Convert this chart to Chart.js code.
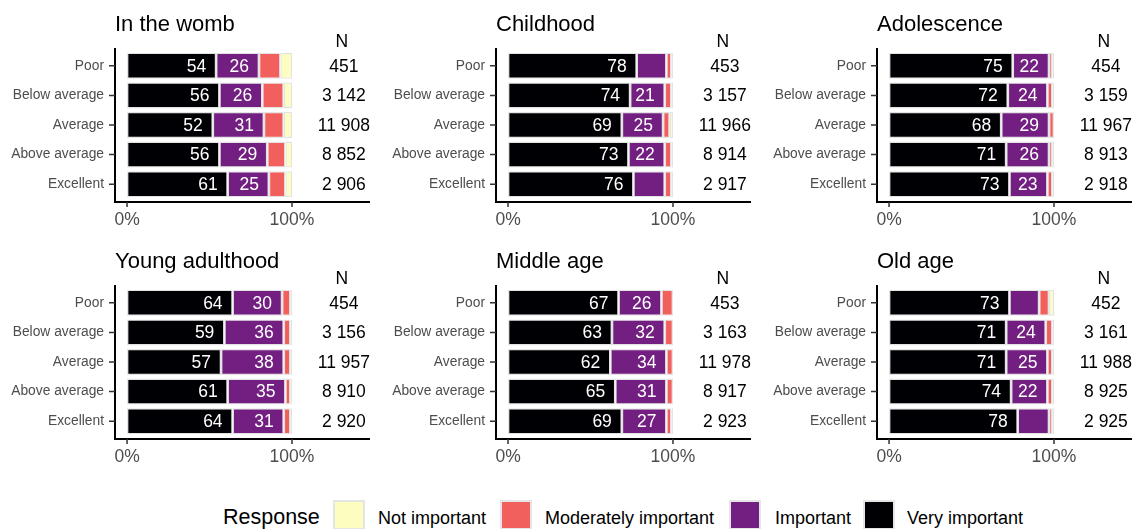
<!DOCTYPE html>
<html>
<head>
<meta charset="utf-8">
<script src="https://cdn.jsdelivr.net/npm/chart.js@4.4.1/dist/chart.umd.min.js"></script>
<style>
  body { margin: 0; background: #fff; width: 1134px; height: 529px; overflow: hidden; position: relative;
         font-family: "Liberation Sans", Arial, sans-serif; }
  canvas { position: absolute; }
  .leg { position: absolute; white-space: nowrap; line-height: 1; }
  .box { position: absolute; width: 32px; height: 30px; box-sizing: border-box; border: 2px solid #e5e5e5; }
</style>
</head>
<body>
<div id="wrap"></div>
<script>
// --- data (percent of respondents) ---
const stages = ['In the womb', 'Childhood', 'Adolescence', 'Young adulthood', 'Middle age', 'Old age'];
const ratings = ['Poor', 'Below average', 'Average', 'Above average', 'Excellent'];
const responses = ['Very important', 'Important', 'Moderately important', 'Not important'];
const legendOrder = ['Not important', 'Moderately important', 'Important', 'Very important'];

const veryImportant = [
  [54, 56, 52, 56, 61], [78, 74, 69, 73, 76], [75, 72, 68, 71, 73],
  [64, 59, 57, 61, 64], [67, 63, 62, 65, 69], [73, 71, 71, 74, 78]
];
const important = [
  [26, 26, 31, 29, 25], [18, 21, 25, 22, 19], [22, 24, 29, 26, 23],
  [30, 36, 38, 35, 31], [26, 32, 34, 31, 27], [18, 24, 25, 22, 19]
];
const moderatelyImportant = [
  [13, 13, 12, 11, 10], [3, 4, 4, 4, 4], [2, 3, 3, 2, 3],
  [5, 4, 4, 3, 4], [7, 5, 4, 4, 3], [6, 4, 3, 3, 2]
];
const notImportant = [
  [7, 5, 5, 4, 4], [1, 1, 2, 1, 1], [1, 1, 0, 1, 1],
  [1, 1, 1, 1, 1], [0, 0, 0, 0, 1], [3, 1, 1, 1, 1]
];
const nCounts = [
  [451, 3142, 11908, 8852, 2906], [453, 3157, 11966, 8914, 2917], [454, 3159, 11967, 8913, 2918],
  [454, 3156, 11957, 8910, 2920], [453, 3163, 11978, 8917, 2923], [452, 3161, 11988, 8925, 2925]
];
const xTicks = [0, 100];

const colours = {
  'Very important': '#000004',
  'Important': '#721f81',
  'Moderately important': '#f1605d',
  'Not important': '#fcfdbf'
};

const FONT = '"Liberation Sans", Arial, sans-serif';
Chart.defaults.font.family = FONT;

const fmtN = n => String(n).replace(/\B(?=(\d{3})+(?!\d))/g, ' ');

// panel title, in-bar percentages, N column and ggplot-like axis lines
const panelText = {
  id: 'panelText',
  afterDatasetsDraw(chart, args, opts) {
    const ctx = chart.ctx;
    const p = opts.panel;
    const xs = chart.scales.x, ys = chart.scales.y;
    const area = chart.chartArea;
    ctx.save();

    // axis lines extend a little past the bars (discrete expansion)
    const axLeft = area.left, axBottom = area.bottom + 3, axTop = area.top - 3;
    ctx.strokeStyle = '#000000';
    ctx.lineWidth = 2;
    ctx.beginPath();
    ctx.moveTo(axLeft, axTop);
    ctx.lineTo(axLeft, axBottom + 1);
    ctx.moveTo(axLeft - 1, axBottom);
    ctx.lineTo(area.right, axBottom);
    ctx.stroke();
    ctx.strokeStyle = '#333333';
    ctx.lineWidth = 1.5;
    ctx.beginPath();
    xTicks.forEach(v => {
      const x = xs.getPixelForValue(v);
      ctx.moveTo(x, axBottom);
      ctx.lineTo(x, axBottom + 5);
    });
    ratings.forEach((r, i) => {
      const y = ys.getPixelForValue(i);
      ctx.moveTo(axLeft - 6, y);
      ctx.lineTo(axLeft, y);
    });
    ctx.stroke();

    ctx.font = '17.5px ' + FONT;
    ctx.textBaseline = 'middle';
    ctx.textAlign = 'right';
    ctx.fillStyle = '#ffffff';
    [0, 1].forEach(di => {
      chart.getDatasetMeta(di).data.forEach((bar, i) => {
        const v = chart.data.datasets[di].data[i];
        if (v >= 20) ctx.fillText(String(v), bar.x - 10, bar.y + 1);
      });
    });
    ctx.fillStyle = '#000000';
    ctx.textAlign = 'center';
    const nx = xs.getPixelForValue(131.5);
    ctx.fillText('N', nx - 2, axTop - 6);
    nCounts[p].forEach((n, i) => ctx.fillText(fmtN(n), nx, ys.getPixelForValue(i) + 1));
    ctx.font = '22px ' + FONT;
    ctx.textAlign = 'left';
    ctx.textBaseline = 'alphabetic';
    ctx.fillText(stages[p], area.left, 31);
    ctx.restore();
  }
};

const wrap = document.getElementById('wrap');
const series = [veryImportant, important, moderatelyImportant, notImportant];

stages.forEach((stage, p) => {
  const cv = document.createElement('canvas');
  cv.width = 378; cv.height = 240;
  cv.style.left = ((p % 3) * 381) + 'px';
  cv.style.top = (Math.floor(p / 3) * 237) + 'px';
  cv.style.width = '378px'; cv.style.height = '240px';
  wrap.appendChild(cv);

  new Chart(cv.getContext('2d'), {
    type: 'bar',
    data: {
      labels: ratings,
      datasets: responses.map((r, k) => ({
        label: r,
        data: series[k][p],
        backgroundColor: colours[r],
        borderColor: '#e3e3e3',
        borderWidth: 1.3,
        borderSkipped: false,
        barPercentage: 0.88,
        categoryPercentage: 1
      }))
    },
    options: {
      indexAxis: 'y',
      responsive: false,
      animation: false,
      devicePixelRatio: 1,
      layout: { padding: { top: 51, right: 8, left: 0, bottom: 0 } },
      plugins: {
        legend: { display: false },
        tooltip: { enabled: false },
        panelText: { panel: p }
      },
      scales: {
        x: {
          stacked: true,
          min: -7.3,
          max: 147.3,
          afterBuildTicks: s => { s.ticks = xTicks.map(v => ({ value: v })); },
          afterFit: s => { s.height = 41; },
          ticks: {
            callback: v => v + '%',
            color: '#4d4d4d',
            font: { size: 17.5 },
            padding: 11,
            maxRotation: 0
          },
          grid: { display: false, drawTicks: false },
          border: { display: false }
        },
        y: {
          stacked: true,
          afterFit: s => { s.width = 115; },
          ticks: { color: '#4d4d4d', font: { size: 13.8 }, padding: 11 },
          grid: { display: false, drawTicks: false },
          border: { display: false }
        }
      }
    },
    plugins: [panelText]
  });
});

// legend
const legPos = { 'Not important': [333, 378], 'Moderately important': [500, 545], 'Important': [729, 775], 'Very important': [863, 907] };
const title = document.createElement('div');
title.className = 'leg';
title.style.cssText = 'left:223px; top:507px; font-size:21.5px; color:#000;';
title.textContent = 'Response';
wrap.appendChild(title);
legendOrder.forEach(r => {
  const b = document.createElement('div');
  b.className = 'box';
  b.style.left = legPos[r][0] + 'px';
  b.style.top = '500px';
  b.style.background = colours[r];
  wrap.appendChild(b);
  const t = document.createElement('div');
  t.className = 'leg';
  t.style.cssText = 'left:' + legPos[r][1] + 'px; top:509px; font-size:18px; color:#000;';
  t.textContent = r;
  wrap.appendChild(t);
});
</script>
</body>
</html>
